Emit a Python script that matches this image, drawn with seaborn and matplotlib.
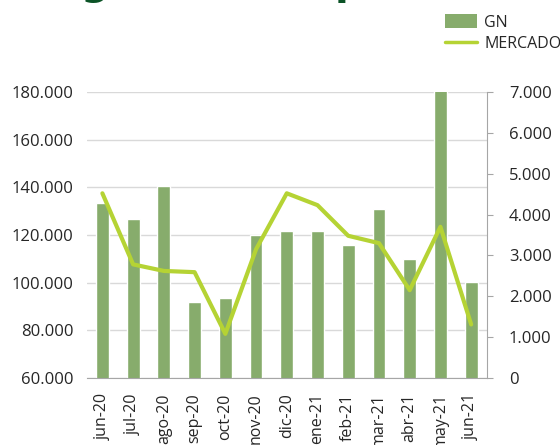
import numpy as np
import matplotlib
matplotlib.use("Agg")
import matplotlib.pyplot as plt
from matplotlib.ticker import FuncFormatter, MultipleLocator
from matplotlib.patches import Patch
from matplotlib.lines import Line2D
import seaborn as sns

# Datos
meses = ["jun-20", "jul-20", "ago-20", "sep-20", "oct-20", "nov-20", "dic-20",
         "ene-21", "feb-21", "mar-21", "abr-21", "may-21", "jun-21"]
gn = [133300, 126700, 140600, 91900, 93600, 120000, 121700,
      121700, 115800, 130900, 109900, 182000, 100300]
mercado = [4520, 2780, 2620, 2590, 1080, 3150, 4520,
           4230, 3480, 3300, 2150, 3700, 1310]

color_gn = "#87AC6C"
color_mercado = "#B5D334"
gris = "#A6A6A6"
texto = "#262626"

sns.set_style("white")
plt.rcParams['font.family'] = ['Open Sans', 'DejaVu Sans']

def miles(v, pos):
    return f"{int(round(v)):,}".replace(",", ".")

fig = plt.figure(figsize=(5.6, 4.45), dpi=100)
ax = fig.add_axes([0.1554, 0.1506, 0.7134, 0.6427])

sns.barplot(x=meses, y=gn, color=color_gn, width=0.42, saturation=1, ax=ax)
ax.set_ylim(60000, 180000)
ax.yaxis.set_major_locator(MultipleLocator(20000))
ax.yaxis.set_major_formatter(FuncFormatter(miles))
ax.grid(axis='y', color="#D9D9D9", linewidth=1)
ax.set_axisbelow(True)
for s in ["left", "top", "right"]:
    ax.spines[s].set_visible(False)
ax.spines["bottom"].set_color(gris)
ax.tick_params(axis='y', length=0, pad=10, labelsize=12, labelcolor=texto)
ax.tick_params(axis='x', length=0, pad=11, labelsize=11.5, labelcolor=texto, rotation=90)

ax2 = ax.twinx()
sns.lineplot(x=np.arange(len(meses)), y=mercado, color=color_mercado,
             linewidth=3, ax=ax2)
ax2.set_ylim(0, 7000)
ax2.yaxis.set_major_locator(MultipleLocator(1000))
ax2.yaxis.set_major_formatter(FuncFormatter(miles))
for s in ["left", "top", "bottom"]:
    ax2.spines[s].set_visible(False)
ax2.spines["right"].set_color(gris)
ax2.tick_params(axis='y', length=4, color=gris, pad=12, labelsize=12, labelcolor=texto)
ax.set_xlim(-0.5, len(meses) - 0.5)

# titulo cortado en la parte superior
fig.text(80 / 560, 1.013, "g", fontsize=29, fontweight='bold', color="#0B5326",
         va='baseline', family='DejaVu Sans')
fig.text(335 / 560, 1.013, "p", fontsize=29, fontweight='bold', color="#0B5326",
         va='baseline', family='DejaVu Sans')

handles = [Patch(facecolor=color_gn, edgecolor='none'),
           Line2D([0], [0], color=color_mercado, linewidth=2.5)]
fig.legend(handles, ["GN", "MERCADO"], loc='upper left',
           bbox_to_anchor=(445 / 560, 1 - 14 / 445),
           frameon=False, fontsize=11.5, handlelength=2.0, handleheight=1.0,
           handletextpad=0.45, labelspacing=0.3, borderpad=0, borderaxespad=0)

fig.savefig("out.png", dpi=100)
